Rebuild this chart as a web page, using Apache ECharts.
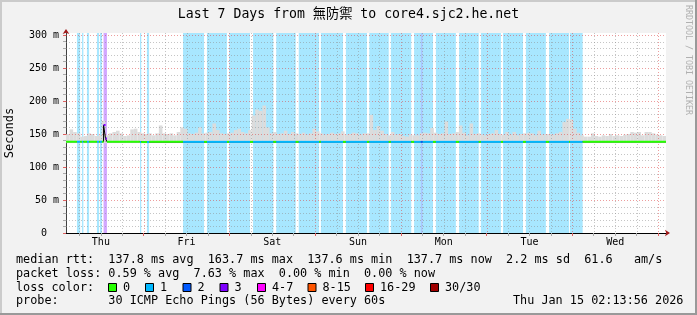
<!DOCTYPE html>
<html><head><meta charset="utf-8">
<script src="https://cdn.jsdelivr.net/npm/echarts@6/dist/echarts.min.js"></script>
<style>html,body{margin:0;padding:0;background:#f2f2f2;}#c{width:697px;height:315px;}</style>
</head><body><div id="c"></div>
<script>
// ---------- data ----------
const startHour = 2.2322;            // Thu Jan 8 02:13:56 (hours since Thu 00:00)
const endHour = startHour + 168;     // Thu Jan 15 02:13:56
const titleText = 'Last 7 Days from 無防禦 to core4.sjc2.he.net';
const dayLabels = ['Thu', 'Fri', 'Sat', 'Sun', 'Mon', 'Tue', 'Wed'];
const dayLabelHours = [12, 36, 60, 84, 108, 132, 156];
const majorGridHours = [24, 48, 72, 96, 120, 144, 168];
const minorGridHours = [6, 12, 18, 30, 36, 42, 54, 60, 66, 78, 84, 90, 102, 108, 114, 126, 132, 138, 150, 156, 162];
const yTickValues = [0, 50, 100, 150, 200, 250, 300];
const yTickLabels = ['0  ', '50 m', '100 m', '150 m', '200 m', '250 m', '300 m'];
const yMinorGrid = [10, 20, 30, 40, 60, 70, 80, 90, 110, 120, 130, 140, 160, 170, 180, 190, 210, 220, 230, 240, 260, 270, 280, 290];
const yMax = 303.03;

// hourly top of the smoke (ms)
const smokeTop = [
  150,157,153,151,146,147,151,150,147,148,170,148,151,153,155,151,147,148,157,158,
  153,151,150,151,148,151,163,151,150,151,148,153,160,158,151,150,152,160,151,152,
  153,166,156,151,150,151,152,156,158,153,151,156,178,187,185,193,160,151,153,150,
  151,155,150,153,151,150,152,149,151,158,154,151,149,150,152,150,151,154,149,150,
  152,151,149,151,151,179,156,162,155,150,148,153,149,150,147,146,149,148,148,151,
  152,151,159,152,150,151,169,150,151,153,163,152,148,166,150,151,149,148,150,151,
  156,150,149,153,149,153,148,150,151,152,151,148,155,149,150,150,149,151,153,168,
  173,172,158,152,148,146,146,151,147,146,148,147,150,147,148,147,149,150,153,152,
  153,148,153,153,151,149,148,147
];
const smokeFloor = 136.2;

// median rtt segments [fromHour, toHour, ms]
const medianSegments = [
  [startHour, 12.75, 138.3],
  [12.75, 13.3, 163.7],
  [13.3, 13.7, 143.0],
  [13.7, 22.9, 138.3],
  [22.9, 25.6, 137.8],
  [25.6, endHour, 138.1]
];

// packet-loss segments [fromHour, toHour, lossLevelIndex]  (0 elsewhere)
const lossSegments = [
  [5.3, 6.2, 1], [6.7, 7.1, 1], [8.1, 8.7, 1], [10.9, 11.5, 1], [11.75, 12.3, 1],
  [12.75, 13.7, 3], [22.95, 23.3, 1], [24.9, 25.5, 1],
  [35.0, 40.9, 1], [41.7, 47.3, 1], [47.9, 53.75, 1], [54.6, 60.3, 1], [61.1, 66.55, 1],
  [67.4, 73.1, 1], [73.6, 79.8, 1], [80.6, 86.5, 1], [87.15, 92.6, 1], [93.2, 98.9, 1],
  [99.7, 101.6, 1], [101.6, 102.1, 2], [102.1, 105.0, 1], [105.8, 111.4, 1],
  [112.3, 117.8, 1], [118.4, 124.0, 1], [124.6, 130.2, 1], [131.0, 136.6, 1],
  [137.5, 143.1, 1], [143.35, 146.9, 1]
];
const lossColors = ['#26ff00', '#00b8ff', '#0059ff', '#7e00ff', '#ff00ff', '#ff5500', '#ff0000', '#a00000'];
const lossNames = ['0', '1', '2', '3', '4-7', '8-15', '16-29', '30/30'];

const legendLines = [
  'median rtt:  137.8 ms avg  163.7 ms max  137.6 ms min  137.7 ms now  2.2 ms sd  61.6   am/s',
  'packet loss: 0.59 % avg  7.63 % max  0.00 % min  0.00 % now',
  'loss color:',
  'probe:       30 ICMP Echo Pings (56 Bytes) every 60s'
];
const dateText = 'Thu Jan 15 02:13:56 2026';
const creditText = 'RRDTOOL / TOBI OETIKER';

// ---------- chart ----------
const MONO = "'DejaVu Sans Mono', 'Noto Sans CJK TC', monospace";
const chart = echarts.init(document.getElementById('c'), null, {renderer: 'canvas', width: 697, height: 315});

function alphaColor(hex, a) {
  const r = parseInt(hex.slice(1, 3), 16), g = parseInt(hex.slice(3, 5), 16), b = parseInt(hex.slice(5, 7), 16);
  return 'rgba(' + r + ',' + g + ',' + b + ',' + a + ')';
}

// colored median pieces
const bpSet = new Set([startHour, endHour]);
medianSegments.forEach(s => { bpSet.add(s[0]); bpSet.add(s[1]); });
lossSegments.forEach(s => { bpSet.add(s[0]); bpSet.add(s[1]); });
const bps = Array.from(bpSet).sort((a, b) => a - b);
const pieces = [];
for (let i = 0; i < bps.length - 1; i++) {
  const a = bps[i], b = bps[i + 1], mid = (a + b) / 2;
  const m = medianSegments.find(s => mid >= s[0] && mid < s[1]);
  const l = lossSegments.find(s => mid >= s[0] && mid < s[1]);
  pieces.push([a, b, m ? m[2] : null, l ? l[2] : 0]);
}
const medianStep = [];
medianSegments.forEach(s => { medianStep.push([s[0], s[2]]); medianStep.push([s[1], s[2]]); });

const smokeData = smokeTop.map((v, i) => [startHour + i, Math.min(startHour + i + 1, endHour), v]);
const vGrid = minorGridHours.map(h => [h, 0]).concat(majorGridHours.map(h => [h, 1]));
const hGrid = yMinorGrid.map(v => [v, 0]).concat(yTickValues.filter(v => v > 0).map(v => [v, 1]));
const GRID_MINOR = 'rgba(140,140,140,0.5)';
const GRID_MAJOR = 'rgba(220,60,60,0.5)';
const ARROW = '#a01818';

const graphics = [
  {type: 'rect', shape: {x: 0, y: 0, width: 697, height: 2}, style: {fill: '#cbcbcb'}},
  {type: 'rect', shape: {x: 0, y: 0, width: 2, height: 315}, style: {fill: '#cbcbcb'}},
  {type: 'rect', shape: {x: 0, y: 313, width: 697, height: 2}, style: {fill: '#999999'}},
  {type: 'rect', shape: {x: 695, y: 0, width: 2, height: 315}, style: {fill: '#999999'}},
  {type: 'text', x: 348.5, y: 15, style: {text: titleText, font: '13.2px ' + MONO, fill: '#000', align: 'center', verticalAlign: 'middle'}},
  {type: 'text', x: 10, y: 133, rotation: Math.PI / 2, style: {text: 'Seconds', font: '12px ' + MONO, fill: '#000', align: 'center', verticalAlign: 'middle'}},
  {type: 'text', x: 688.5, y: 60, rotation: -Math.PI / 2, style: {text: creditText, font: '8.3px ' + MONO, fill: '#b0b0b0', align: 'center', verticalAlign: 'middle'}},
  {type: 'text', x: 513, y: 301, style: {text: dateText, font: '11.8px ' + MONO, fill: '#000', align: 'left', verticalAlign: 'middle'}}
];
const lineY = [259.5, 273.5, 287.5, 301];
legendLines.forEach((t, i) => graphics.push({type: 'text', x: 16, y: lineY[i], style: {text: t, font: '11.8px ' + MONO, fill: '#000', align: 'left', verticalAlign: 'middle'}}));
const boxX = [108, 145, 182.5, 219.5, 257, 307.5, 365, 430];
lossNames.forEach((n, i) => {
  graphics.push({type: 'rect', shape: {x: boxX[i] + 0.5, y: 283.5, width: 8, height: 8}, style: {fill: lossColors[i], stroke: '#000', lineWidth: 1}});
  graphics.push({type: 'text', x: boxX[i] + 15, y: 287.5, style: {text: n, font: '11.8px ' + MONO, fill: '#000', align: 'left', verticalAlign: 'middle'}});
});

const option = {
  animation: false,
  backgroundColor: '#f2f2f2',
  grid: {left: 66, top: 33, width: 600, height: 200, show: true, backgroundColor: '#ffffff', borderWidth: 0},
  xAxis: [{
    type: 'value', min: startHour, max: endHour, position: 'bottom',
    axisLine: {show: true, onZero: false, lineStyle: {color: '#000', width: 1}},
    axisTick: {show: true, customValues: minorGridHours, length: 3, lineStyle: {color: '#aaaaaa'}},
    axisLabel: {show: true, customValues: dayLabelHours, formatter: v => dayLabels[dayLabelHours.indexOf(Math.round(v))] || '', fontFamily: MONO, fontSize: 10, color: '#000', margin: 4},
    splitLine: {show: false}
  }, {
    type: 'value', min: startHour, max: endHour, position: 'bottom',
    axisLine: {show: true, onZero: false, lineStyle: {color: ARROW, width: 0}, symbol: ['none', 'arrow'], symbolSize: [5, 5], symbolOffset: [0, 4]},
    axisTick: {show: true, customValues: majorGridHours, length: 3, lineStyle: {color: '#dd6060'}},
    axisLabel: {show: false}, splitLine: {show: false}
  }],
  yAxis: [{
    type: 'value', min: 0, max: yMax, position: 'left',
    axisLine: {show: true, lineStyle: {color: '#404040', width: 1}},
    axisTick: {show: true, customValues: yMinorGrid, length: 3, lineStyle: {color: '#aaaaaa'}},
    axisLabel: {show: true, customValues: yTickValues, formatter: v => yTickLabels[yTickValues.indexOf(Math.round(v))], fontFamily: MONO, fontSize: 10, color: '#000', margin: 7},
    splitLine: {show: false}
  }, {
    type: 'value', min: 0, max: yMax, position: 'left',
    axisLine: {show: true, lineStyle: {color: ARROW, width: 0}, symbol: ['none', 'arrow'], symbolSize: [5, 5], symbolOffset: [0, 4]},
    axisTick: {show: true, customValues: yTickValues, length: 3, lineStyle: {color: '#dd6060'}},
    axisLabel: {show: false}, splitLine: {show: false}
  }],
  graphic: graphics,
  series: [
    { // loss background bands
      type: 'custom', z: 1, xAxisIndex: 0, yAxisIndex: 0, clip: true,
      data: lossSegments.filter(s => s[2] > 0),
      renderItem: (params, api) => {
        const p1 = api.coord([api.value(0), yMax]);
        const p2 = api.coord([api.value(1), 0]);
        const lvl = api.value(2);
        return {type: 'rect', shape: {x: p1[0], y: p1[1], width: p2[0] - p1[0], height: p2[1] - p1[1]},
          style: {fill: alphaColor(lossColors[lvl], 0.34)}};
      }
    },
    { // smoke
      type: 'custom', z: 2, xAxisIndex: 0, yAxisIndex: 0, clip: true,
      data: smokeData,
      renderItem: (params, api) => {
        const p1 = api.coord([api.value(0), api.value(2)]);
        const p2 = api.coord([api.value(1), smokeFloor]);
        return {type: 'rect', shape: {x: p1[0], y: p1[1], width: p2[0] - p1[0], height: p2[1] - p1[1]},
          style: {fill: '#dcdcdc'}};
      }
    },
    { // vertical grid
      type: 'custom', z: 3, xAxisIndex: 0, yAxisIndex: 0,
      data: vGrid,
      renderItem: (params, api) => {
        const p1 = api.coord([api.value(0), yMax]);
        const p2 = api.coord([api.value(0), 0]);
        const x = Math.round(p1[0]) + 0.5;
        return {type: 'line', shape: {x1: x, y1: p1[1], x2: x, y2: p2[1]},
          style: {stroke: api.value(1) ? GRID_MAJOR : GRID_MINOR, lineWidth: 1, lineDash: [1, 2]}};
      }
    },
    { // horizontal grid
      type: 'custom', z: 3, xAxisIndex: 0, yAxisIndex: 0,
      data: hGrid,
      renderItem: (params, api) => {
        const p1 = api.coord([startHour, api.value(0)]);
        const p2 = api.coord([endHour, api.value(0)]);
        const y = Math.round(p1[1]) + 0.5;
        return {type: 'line', shape: {x1: p1[0], y1: y, x2: p2[0], y2: y},
          style: {stroke: api.value(1) ? GRID_MAJOR : GRID_MINOR, lineWidth: 1, lineDash: [1, 2]}};
      }
    },
    { // dark median step line
      type: 'line', z: 4, xAxisIndex: 0, yAxisIndex: 0, data: medianStep, showSymbol: false,
      lineStyle: {color: '#000000', width: 1}, silent: true
    },
    { // loss-coloured median
      type: 'custom', z: 5, xAxisIndex: 0, yAxisIndex: 0,
      data: pieces,
      renderItem: (params, api) => {
        const p1 = api.coord([api.value(0), api.value(2)]);
        const p2 = api.coord([api.value(1), api.value(2)]);
        return {type: 'line', shape: {x1: p1[0], y1: p1[1], x2: p2[0], y2: p2[1]},
          style: {stroke: lossColors[api.value(3)], lineWidth: 2, lineCap: 'butt'}};
      }
    }
  ]
};
chart.setOption(option);
</script>
</body></html>
